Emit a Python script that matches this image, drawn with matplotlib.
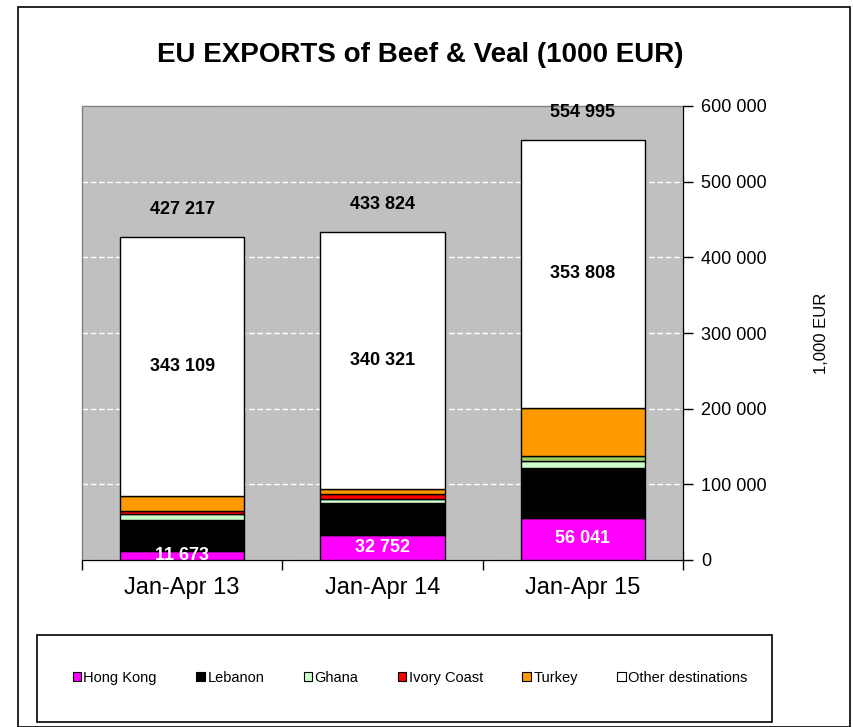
import matplotlib
matplotlib.use("Agg")
import matplotlib.pyplot as plt
from matplotlib.patches import Rectangle, Patch
import numpy as np

plt.rcParams['font.family'] = ['Liberation Sans', 'DejaVu Sans']

periods = ["Jan-Apr 13", "Jan-Apr 14", "Jan-Apr 15"]
series = ["Hong Kong", "Lebanon", "Ghana", "Ivory Coast", "Turkey", "Other destinations"]
hong_kong = [11673, 32752, 56041]
lebanon = [40900, 43000, 66000]
ghana = [8000, 5500, 9000]
ivory_coast = [4500, 6500, 7000]
turkey = [19035, 5751, 63146]
other = [343109, 340321, 353808]
totals = [427217, 433824, 554995]

colors = ["#FF00FF", "#000000", "#CCFFCC", "#FF0000", "#FF9900", "#FFFFFF"]
# third bar's "ivory coast" slot is drawn green in the original
ic_colors = ["#FF0000", "#FF0000", "#99CC66"]


def fmt(v):
    return "{:,}".format(int(v)).replace(",", " ")


fig = plt.figure(figsize=(8.54, 7.27), dpi=100)
fig.patches.append(Rectangle((18 / 854, 0.0), 832 / 854, (727 - 7) / 727,
                             transform=fig.transFigure, fill=False,
                             edgecolor="black", lw=1.2))

ax = fig.add_axes([82 / 854, (727 - 560) / 727, (683 - 82) / 854, (560 - 106) / 727])
ax.set_facecolor("#C0C0C0")

x = np.arange(len(periods))
data = [hong_kong, lebanon, ghana, ivory_coast, turkey, other]
bottom = np.zeros(len(periods))
for i, vals in enumerate(data):
    c = ic_colors if i == 3 else colors[i]
    ax.bar(x, vals, width=0.62, bottom=bottom, color=c, edgecolor="black",
           linewidth=1.0, zorder=3)
    bottom = bottom + np.array(vals)

for xi in x:
    ax.text(xi, hong_kong[xi] / 2, fmt(hong_kong[xi]), ha="center", va="center",
            color="white", fontsize=13, fontweight="bold", zorder=5, clip_on=True)
    base = sum(d[xi] for d in data[:5])
    ax.text(xi, base + other[xi] / 2, fmt(other[xi]), ha="center", va="center",
            color="black", fontsize=13, fontweight="bold", zorder=5)
    ax.annotate(fmt(totals[xi]), (xi, totals[xi]), xytext=(0, 19.5),
                textcoords="offset points", ha="center", va="center",
                fontsize=13, fontweight="bold", zorder=5)

ax.set_xlim(-0.5, 2.5)
ax.set_ylim(0, 600000)
ax.yaxis.tick_right()
ax.yaxis.set_label_position("right")
ax.set_yticks(np.arange(0, 600001, 100000))
ax.set_yticklabels([fmt(v) for v in np.arange(0, 600001, 100000)], fontsize=13)
ax.grid(axis="y", color="white", linestyle=(0, (4, 2)), linewidth=1.0, zorder=1)
ax.set_ylabel("1,000 EUR", fontsize=12, labelpad=34)

ax.set_xticks([-0.5, 0.5, 1.5, 2.5], minor=False)
ax.set_xticklabels([])
ax.set_xticks(x, minor=True)
ax.set_xticklabels(periods, minor=True, fontsize=17)
ax.tick_params(axis="x", which="minor", length=0, pad=12)
ax.tick_params(axis="x", which="major", length=7, direction="out", width=1)
ax.tick_params(axis="y", length=7, direction="out", width=1, pad=6)

for s in ["top", "left"]:
    ax.spines[s].set_visible(False)
ax.spines["right"].set_color("black")
ax.spines["bottom"].set_color("black")
# thin gray frame for plot area
ax.add_patch(Rectangle((0, 0), 1, 1, transform=ax.transAxes, fill=False,
                       edgecolor="#808080", lw=1, zorder=2, clip_on=False))

fig.text(420 / 854, (727 - 55) / 727, "EU EXPORTS of Beef & Veal (1000 EUR)",
         ha="center", va="center", fontsize=20, fontweight="bold")

# legend box
fig.patches.append(Rectangle((37 / 854, (727 - 722) / 727), (772 - 37) / 854, (722 - 635) / 727,
                             transform=fig.transFigure, fill=False,
                             edgecolor="black", lw=1.2))
handles = [Patch(facecolor=colors[i], edgecolor="black", linewidth=0.8) for i in range(6)]
fig.legend(handles, series, loc="center", bbox_to_anchor=(410 / 854, (727 - 678) / 727),
           ncol=6, frameon=False, fontsize=10.5, handlelength=0.6, handleheight=0.6,
           handletextpad=0.15, columnspacing=2.7)

fig.savefig("out.png", dpi=100)
